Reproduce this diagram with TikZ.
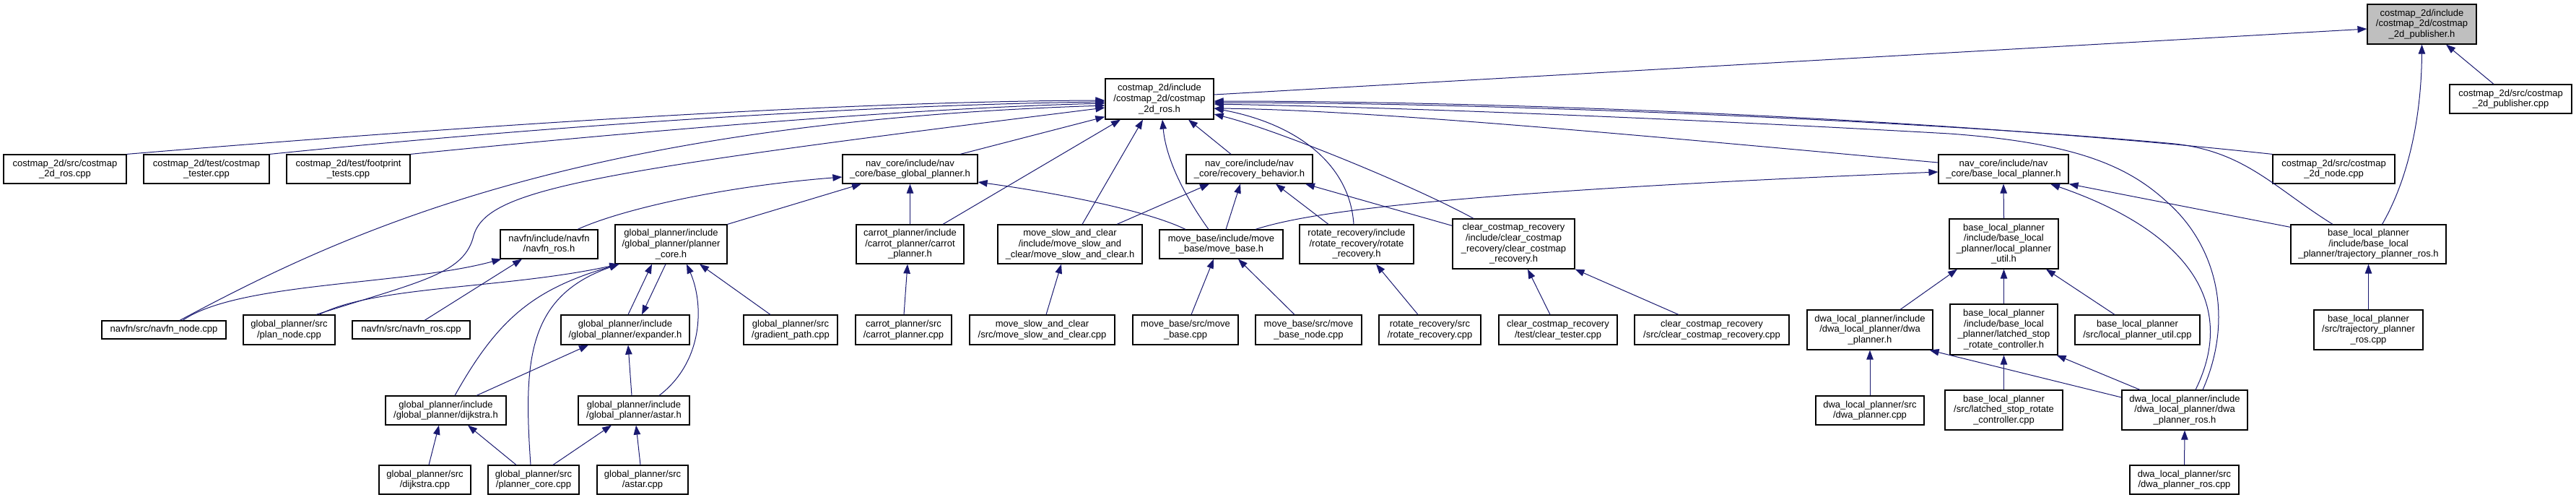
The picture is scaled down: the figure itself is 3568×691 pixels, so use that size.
\documentclass[tikz,border=0pt]{standalone}
\usepackage{fontspec}
\setmainfont{Liberation Sans}
\usetikzlibrary{arrows.meta}
\definecolor{edgeblue}{HTML}{191970}
\definecolor{focusgray}{HTML}{BFBFBF}
\tikzstyle{file} = [rectangle, draw=black, line width=1.2pt, fill=white, align=center, inner sep=0pt, font=\fontsize{13}{14.6}\selectfont]
\tikzstyle{focus} = [file, fill=focusgray]
\tikzstyle{line} = [draw=edgeblue, line width=1pt, -{Triangle[length=13pt,width=9.5pt]}]

\begin{document}
\begin{tikzpicture}[x=1pt, y=-1pt]
        \useasboundingbox (0,0) rectangle (3568,691);

        \node (pubh) [focus, minimum width=151pt, minimum height=55pt] at (3354.5,33.5) {costmap\_2d/include\hfill\\/costmap\_2d/costmap\hfill\\\_2d\_publisher.h};
        \node (pubcpp) [file, minimum width=169pt, minimum height=40pt] at (3477.5,137) {costmap\_2d/src/costmap\hfill\\\_2d\_publisher.cpp};
        \node (rosh) [file, minimum width=150pt, minimum height=56pt] at (1606,137) {costmap\_2d/include\hfill\\/costmap\_2d/costmap\hfill\\\_2d\_ros.h};

        \node (rossrc) [file, minimum width=170pt, minimum height=40pt] at (90,234) {costmap\_2d/src/costmap\hfill\\\_2d\_ros.cpp};
        \node (tester) [file, minimum width=174pt, minimum height=40pt] at (286,234) {costmap\_2d/test/costmap\hfill\\\_tester.cpp};
        \node (fptests) [file, minimum width=171pt, minimum height=40pt] at (482.5,234) {costmap\_2d/test/footprint\hfill\\\_tests.cpp};
        \node (bgp) [file, minimum width=187pt, minimum height=40pt] at (1260.5,234) {nav\_core/include/nav\hfill\\\_core/base\_global\_planner.h};
        \node (recov) [file, minimum width=175pt, minimum height=40pt] at (1730.5,234) {nav\_core/include/nav\hfill\\\_core/recovery\_behavior.h};
        \node (blp) [file, minimum width=180pt, minimum height=40pt] at (2775,234) {nav\_core/include/nav\hfill\\\_core/base\_local\_planner.h};
        \node (cmnode) [file, minimum width=169pt, minimum height=40pt] at (3232.5,234) {costmap\_2d/src/costmap\hfill\\\_2d\_node.cpp};

        \node (navfnh) [file, minimum width=135pt, minimum height=40pt] at (760.5,338) {navfn/include/navfn\hfill\\/navfn\_ros.h};
        \node (plannercore) [file, minimum width=155pt, minimum height=54pt] at (929.5,338) {global\_planner/include\hfill\\/global\_planner/planner\hfill\\\_core.h};
        \node (carroth) [file, minimum width=149pt, minimum height=54pt] at (1260.5,338) {carrot\_planner/include\hfill\\/carrot\_planner/carrot\hfill\\\_planner.h};
        \node (slowh) [file, minimum width=200pt, minimum height=54pt] at (1482,338) {move\_slow\_and\_clear\hfill\\/include/move\_slow\_and\hfill\\\_clear/move\_slow\_and\_clear.h};
        \node (moveh) [file, minimum width=171pt, minimum height=40pt] at (1691.5,338) {move\_base/include/move\hfill\\\_base/move\_base.h};
        \node (rotateh) [file, minimum width=158pt, minimum height=54pt] at (1879,338) {rotate\_recovery/include\hfill\\/rotate\_recovery/rotate\hfill\\\_recovery.h};
        \node (clearh) [file, minimum width=169pt, minimum height=69pt] at (2096.5,337.5) {clear\_costmap\_recovery\hfill\\/include/clear\_costmap\hfill\\\_recovery/clear\_costmap\hfill\\\_recovery.h};
        \node (utilh) [file, minimum width=151pt, minimum height=69pt] at (2775.5,337.5) {base\_local\_planner\hfill\\/include/base\_local\hfill\\\_planner/local\_planner\hfill\\\_util.h};
        \node (trajh) [file, minimum width=215pt, minimum height=54pt] at (3280.5,338) {base\_local\_planner\hfill\\/include/base\_local\hfill\\\_planner/trajectory\_planner\_ros.h};

        \node (navfnnode) [file, minimum width=172pt, minimum height=25pt] at (227,456.5) {navfn/src/navfn\_node.cpp};
        \node (plannode) [file, minimum width=127pt, minimum height=41pt] at (400.5,456.5) {global\_planner/src\hfill\\/plan\_node.cpp};
        \node (navfncpp) [file, minimum width=163pt, minimum height=25pt] at (569.5,456.5) {navfn/src/navfn\_ros.cpp};
        \node (expander) [file, minimum width=178pt, minimum height=41pt] at (866,456.5) {global\_planner/include\hfill\\/global\_planner/expander.h};
        \node (gradient) [file, minimum width=130pt, minimum height=41pt] at (1095,456.5) {global\_planner/src\hfill\\/gradient\_path.cpp};
        \node (carrotcpp) [file, minimum width=133pt, minimum height=41pt] at (1251.5,456.5) {carrot\_planner/src\hfill\\/carrot\_planner.cpp};
        \node (slowcpp) [file, minimum width=201pt, minimum height=41pt] at (1443.5,456.5) {move\_slow\_and\_clear\hfill\\/src/move\_slow\_and\_clear.cpp};
        \node (movecpp) [file, minimum width=146pt, minimum height=41pt] at (1642,456.5) {move\_base/src/move\hfill\\\_base.cpp};
        \node (movenode) [file, minimum width=147pt, minimum height=41pt] at (1812.5,456.5) {move\_base/src/move\hfill\\\_base\_node.cpp};
        \node (rotatecpp) [file, minimum width=141pt, minimum height=41pt] at (1980.5,456.5) {rotate\_recovery/src\hfill\\/rotate\_recovery.cpp};
        \node (cleartester) [file, minimum width=164pt, minimum height=41pt] at (2158,456.5) {clear\_costmap\_recovery\hfill\\/test/clear\_tester.cpp};
        \node (clearcpp) [file, minimum width=214pt, minimum height=41pt] at (2371,456.5) {clear\_costmap\_recovery\hfill\\/src/clear\_costmap\_recovery.cpp};
        \node (dwah) [file, minimum width=174pt, minimum height=55pt] at (2590,456.5) {dwa\_local\_planner/include\hfill\\/dwa\_local\_planner/dwa\hfill\\\_planner.h};
        \node (latchedh) [file, minimum width=149pt, minimum height=70pt] at (2775.5,456) {base\_local\_planner\hfill\\/include/base\_local\hfill\\\_planner/latched\_stop\hfill\\\_rotate\_controller.h};
        \node (utilcpp) [file, minimum width=173pt, minimum height=41pt] at (2960.5,456.5) {base\_local\_planner\hfill\\/src/local\_planner\_util.cpp};
        \node (trajcpp) [file, minimum width=151pt, minimum height=55pt] at (3280.5,456.5) {base\_local\_planner\hfill\\/src/trajectory\_planner\hfill\\\_ros.cpp};

        \node (dijkstrah) [file, minimum width=167pt, minimum height=40pt] at (617.5,568) {global\_planner/include\hfill\\/global\_planner/dijkstra.h};
        \node (astarh) [file, minimum width=154pt, minimum height=40pt] at (878,568) {global\_planner/include\hfill\\/global\_planner/astar.h};
        \node (dwacpp) [file, minimum width=150pt, minimum height=40pt] at (2590,568) {dwa\_local\_planner/src\hfill\\/dwa\_planner.cpp};
        \node (latchedcpp) [file, minimum width=163pt, minimum height=55pt] at (2775.5,567.5) {base\_local\_planner\hfill\\/src/latched\_stop\_rotate\hfill\\\_controller.cpp};
        \node (dwarosh) [file, minimum width=174pt, minimum height=55pt] at (3026,567.5) {dwa\_local\_planner/include\hfill\\/dwa\_local\_planner/dwa\hfill\\\_planner\_ros.h};

        \node (dijkstracpp) [file, minimum width=127pt, minimum height=40pt] at (588.5,664) {global\_planner/src\hfill\\/dijkstra.cpp};
        \node (corecpp) [file, minimum width=126pt, minimum height=40pt] at (739,664) {global\_planner/src\hfill\\/planner\_core.cpp};
        \node (astarcpp) [file, minimum width=126pt, minimum height=40pt] at (890,664) {global\_planner/src\hfill\\/astar.cpp};
        \node (dwaroscpp) [file, minimum width=151pt, minimum height=40pt] at (3025.5,664) {dwa\_local\_planner/src\hfill\\/dwa\_planner\_ros.cpp};

        \path [line] ([yshift=6pt]rosh.east) -- ([yshift=-6.5pt]pubh.west);
        \path [line] ([xshift=19pt]trajh.north) .. controls (3340,240) and (3354,150) .. (pubh.south);
        \path [line] ([xshift=-23.5pt]pubcpp.north) -- ([xshift=33.5pt]pubh.south);

        \path [line] (rossrc.north east) .. controls (600,178) and (1150,140) .. ([yshift=-2pt]rosh.west);
        \path [line] (tester.north east) .. controls (750,175) and (1200,145) .. ([yshift=-4pt]rosh.west);
        \path [line] (fptests.north east) .. controls (850,185) and (1250,150) .. ([yshift=-6pt]rosh.west);
        \path [line] ([xshift=22pt]navfnnode.north) .. controls (480,320) and (800,170) .. ([yshift=-9pt]rosh.west);
        \path [line] ([xshift=37.5pt]plannode.north) .. controls (580,390) and (640,380) .. (655,330) .. controls (670,262) and (800,240) .. ([yshift=-12pt]rosh.west);
        \path [line] ([xshift=69.5pt]bgp.north) -- ([yshift=4pt]rosh.south west);
        \path [line] ([xshift=45.5pt]carroth.north) -- ([xshift=-54pt]rosh.south);
        \path [line] ([xshift=17pt]slowh.north) -- ([xshift=-23pt]rosh.south);
        \path [line] ([xshift=-17.5pt]moveh.north) .. controls (1640,270) and (1615,220) .. ([xshift=4pt]rosh.south);
        \path [line] ([xshift=-25.5pt]recov.north) -- ([xshift=40pt]rosh.south);
        \path [line] ([xshift=-4pt]rotateh.north) .. controls (1870,230) and (1800,172) .. ([yshift=-13pt]rosh.east);
        \path [line] ([xshift=-55.5pt]clearh.north) .. controls (1960,258) and (1770,180) .. ([yshift=-21pt]rosh.east);
        \path [line] ([yshift=9pt]blp.west) .. controls (2300,190) and (1900,152) .. ([yshift=-13pt]rosh.east);
        \path [line] (cmnode.north west) .. controls (2700,165) and (2100,140) .. ([yshift=-3pt]rosh.east);
        \path [line] ([xshift=-49.5pt]trajh.north) .. controls (3150,260) and (3110,210) .. (3012,199) .. controls (2700,170) and (2100,142) .. ([yshift=-5pt]rosh.east);
        \path [line] ([xshift=25pt]dwarosh.north) .. controls (3095,440) and (3070,340) .. (3002,280) .. controls (2950,232) and (2880,198) .. (2700,185) .. controls (2400,168) and (2000,150) .. ([yshift=-7pt]rosh.east);

        \path [line] ([xshift=39.5pt]navfnh.north) .. controls (860,290) and (1000,258) .. ([yshift=-11pt]bgp.west);
        \path [line] (plannercore.north east) -- ([xshift=-67.5pt]bgp.south);
        \path [line] (carroth.north) -- (bgp.south);
        \path [line] ([xshift=-49.5pt]moveh.north) .. controls (1590,292) and (1470,268) .. ([yshift=-18pt]bgp.east);

        \path [line] ([xshift=65pt]slowh.north) -- ([xshift=-55.5pt]recov.south);
        \path [line] ([xshift=6.5pt]moveh.north) -- ([xshift=-12.5pt]recov.south);
        \path [line] ([xshift=-39pt]rotateh.north) -- ([xshift=36.5pt]recov.south);
        \path [line] ([yshift=-10pt]clearh.north west) -- ([xshift=77.5pt]recov.south);

        \path [line] ([xshift=47.5pt]moveh.north) .. controls (1800,298) and (1950,268) .. ([yshift=-4pt]blp.west);
        \path [line] (utilh.north) -- (blp.south);
        \path [line] ([yshift=-4pt]trajh.north west) -- (blp.south east);
        \path [line] ([xshift=15pt]dwarosh.north) .. controls (3100,420) and (3030,320) .. ([xshift=65pt]blp.south);

        \path [line] ([xshift=26pt]navfnnode.north) .. controls (330,390) and (560,395) .. ([xshift=2pt]navfnh.south west);
        \path [line] ([xshift=18.5pt]navfncpp.north) -- ([xshift=-37.5pt]navfnh.south);

        \path [line] ([xshift=41.5pt]plannode.north) .. controls (520,395) and (700,400) .. ([xshift=6pt]plannercore.south west);
        \path [line] ([xshift=4pt]expander.north) -- ([xshift=-26.5pt]plannercore.south);
        \path [line] ([xshift=-7.5pt]plannercore.south) -- ([xshift=23pt]expander.north);
        \path [line] ([xshift=12.5pt]dijkstrah.north) .. controls (690,440) and (740,400) .. ([xshift=6pt]plannercore.south west);
        \path [line] ([xshift=-4pt]corecpp.north) .. controls (725,500) and (730,410) .. ([xshift=6pt]plannercore.south west);
        \path [line] ([xshift=35pt]astarh.north) .. controls (975,500) and (975,420) .. ([xshift=21.5pt]plannercore.south);
        \path [line] ([xshift=-28pt]gradient.north) -- ([xshift=39.5pt]plannercore.south);

        \path [line] ([xshift=42.5pt]dijkstrah.north) -- ([xshift=-51pt]expander.south);
        \path [line] ([xshift=-3pt]astarh.north) -- ([xshift=4pt]expander.south);
        \path [line] ([xshift=5.5pt]dijkstracpp.north) -- ([xshift=-9.5pt]dijkstrah.south);
        \path [line] ([xshift=-24pt]corecpp.north) -- ([xshift=30.5pt]dijkstrah.south);
        \path [line] ([xshift=27pt]corecpp.north) -- ([xshift=-31pt]astarh.south);
        \path [line] ([xshift=-3pt]astarcpp.north) -- ([xshift=3pt]astarh.south);

        \path [line] ([xshift=0.5pt]carrotcpp.north) -- ([xshift=-3.5pt]carroth.south);
        \path [line] ([xshift=5.5pt]slowcpp.north) -- ([xshift=-12pt]slowh.south);
        \path [line] ([xshift=8pt]movecpp.north) -- ([xshift=-10.5pt]moveh.south);
        \path [line] ([xshift=-19.5pt]movenode.north) -- ([xshift=23.5pt]moveh.south);
        \path [line] ([xshift=-16.5pt]rotatecpp.north) -- ([xshift=27pt]rotateh.south);
        \path [line] ([xshift=-11pt]cleartester.north) -- ([xshift=19.5pt]clearh.south);
        \path [line] ([xshift=-46pt]clearcpp.north) -- (clearh.south east);

        \path [line] (dwacpp.north) -- (dwah.south);
        \path [line] ([xshift=42pt]dwah.north) -- ([xshift=-64.5pt]utilh.south);
        \path [line] (latchedh.north) -- (utilh.south);
        \path [line] ([xshift=-31.5pt]utilcpp.north) -- ([xshift=58.5pt]utilh.south);
        \path [line] ([yshift=17.5pt]dwarosh.west) -- ([xshift=-5pt]dwah.south east);
        \path [line] ([xshift=-62pt]dwarosh.north) -- ([xshift=-2pt]latchedh.south east);
        \path [line] (latchedcpp.north) -- (latchedh.south);
        \path [line] (dwaroscpp.north) -- (dwarosh.south);
        \path [line] (trajcpp.north) -- (trajh.south);

    \end{tikzpicture}
\end{document}
